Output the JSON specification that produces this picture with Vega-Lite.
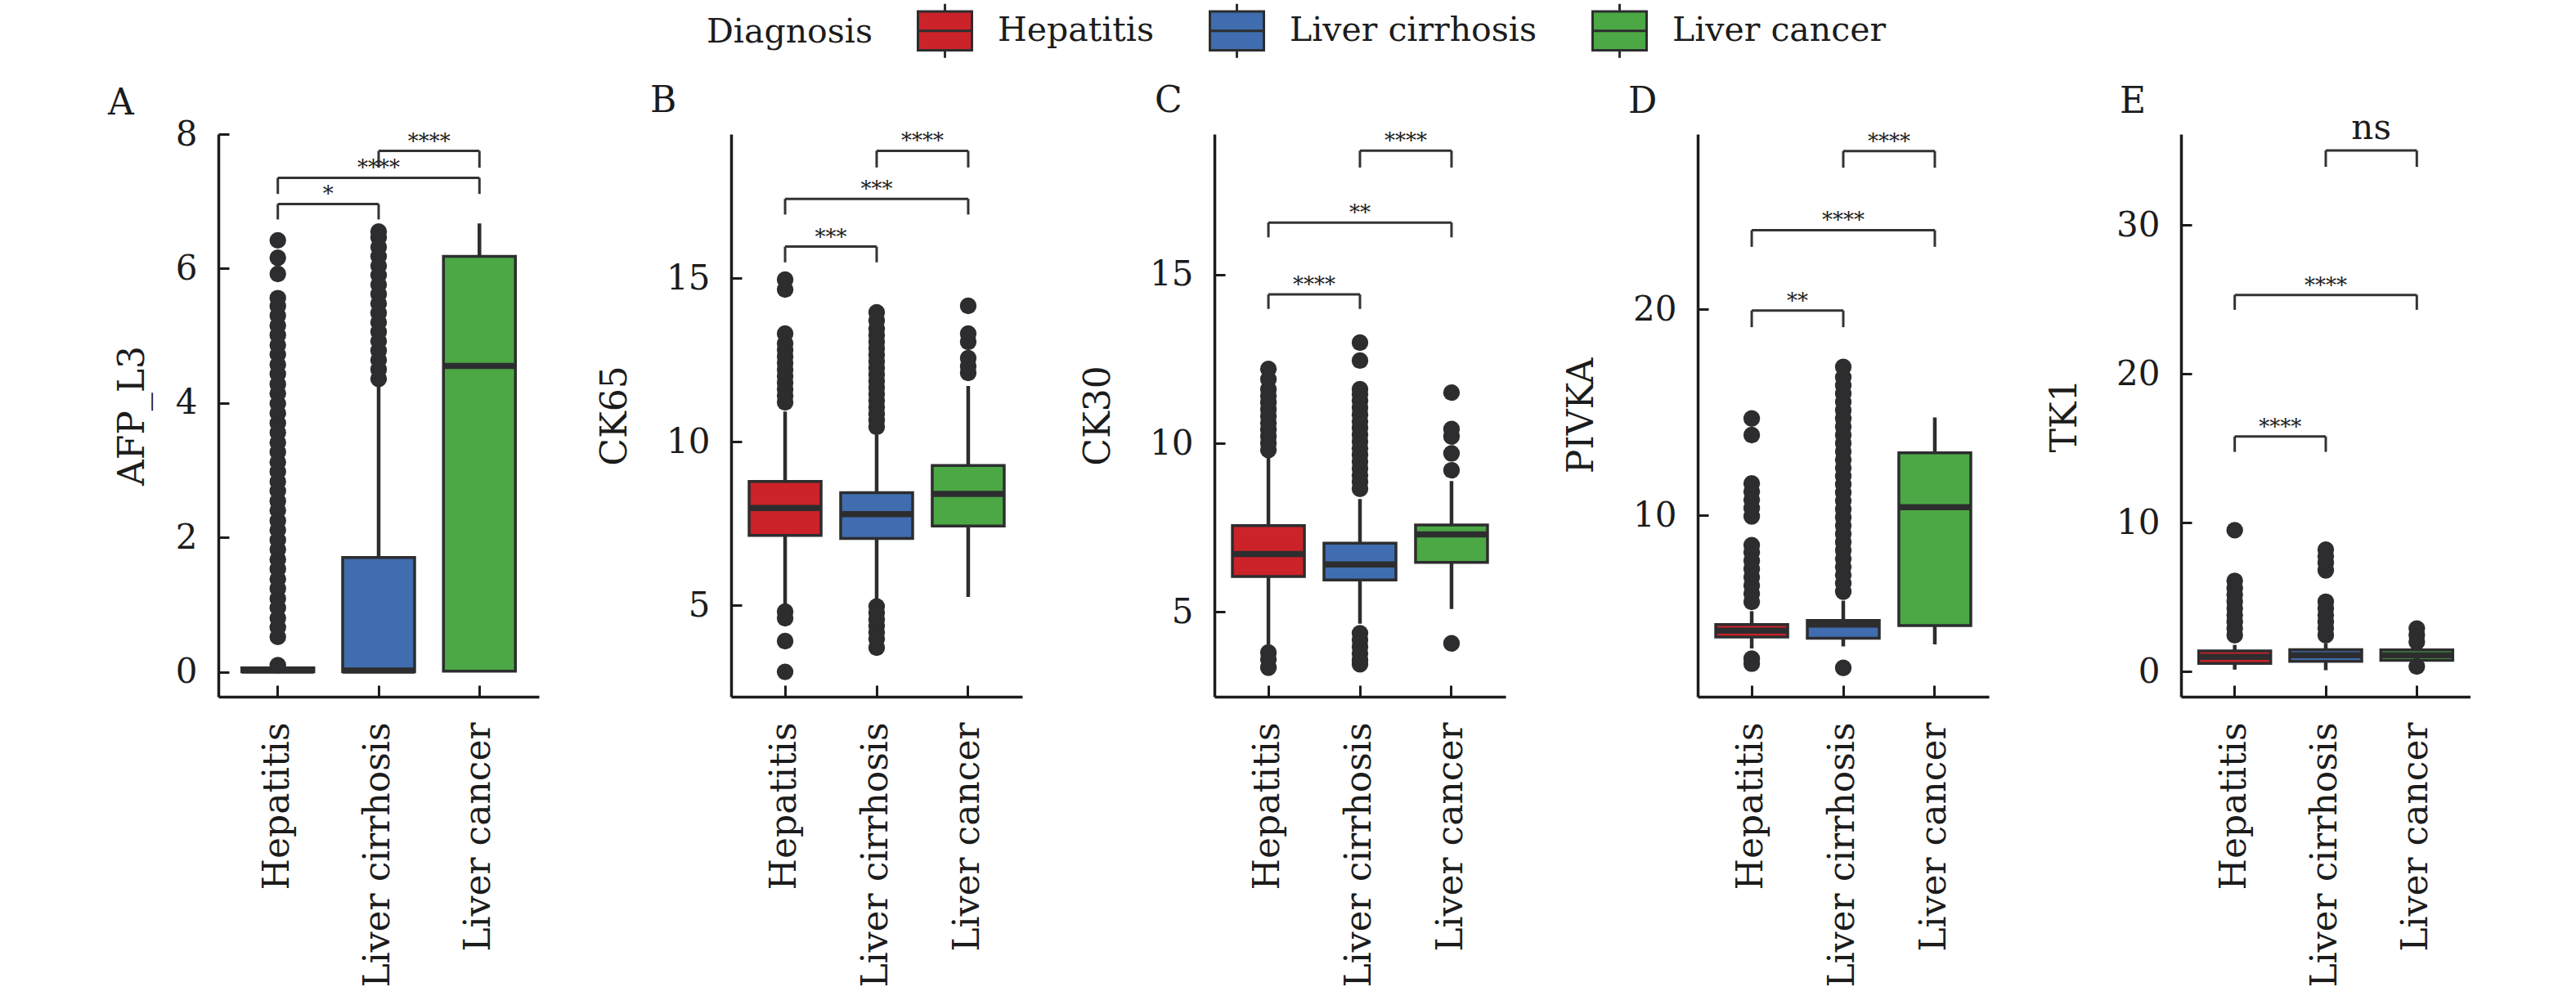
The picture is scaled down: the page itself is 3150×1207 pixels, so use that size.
{
"$schema": "https://vega.github.io/schema/vega-lite/v6.json",
"background": "white",
"padding": {"left": 132, "top": 3, "right": 0, "bottom": 0},
"spacing": 235,
"bounds": "flush",
"config": {
  "view": {"stroke": null},
  "font": "DejaVu Serif",
  "axis": {"grid": false, "domainColor": "#1c1c1c", "domainWidth": 3.5, "tickColor": "#1c1c1c", "tickWidth": 3, "labelFont": "DejaVu Serif", "titleFont": "DejaVu Serif", "titleFontWeight": "normal", "labelColor": "#1c1c1c", "titleColor": "#1c1c1c", "labelFontSize": 42, "titleFontSize": 44, "labelLimit": 0},
  "text": {"font": "DejaVu Serif", "color": "#1c1c1c"}
},
"resolve": {"scale": {"x": "independent", "y": "independent", "fill": "independent"}, "legend": {"fill": "independent"}},
"datasets": {
"boxes": [
{"p":"A","g":"Hepatitis","lower":0,"q1":0,"median":0.02,"q3":0.06,"upper":0.12},
{"p":"A","g":"Liver cirrhosis","lower":0,"q1":0,"median":0.02,"q3":1.7,"upper":4.25},
{"p":"A","g":"Liver cancer","lower":0,"q1":0.01,"median":4.55,"q3":6.18,"upper":6.67},
{"p":"B","g":"Hepatitis","lower":4.96,"q1":7.13,"median":7.97,"q3":8.78,"upper":10.92},
{"p":"B","g":"Liver cirrhosis","lower":5.19,"q1":7.04,"median":7.78,"q3":8.44,"upper":10.2},
{"p":"B","g":"Liver cancer","lower":5.25,"q1":7.42,"median":8.4,"q3":9.27,"upper":11.7},
{"p":"C","g":"Hepatitis","lower":4.04,"q1":6.05,"median":6.72,"q3":7.56,"upper":9.6},
{"p":"C","g":"Liver cirrhosis","lower":4.65,"q1":5.95,"median":6.41,"q3":7.04,"upper":8.35},
{"p":"C","g":"Liver cancer","lower":5.09,"q1":6.47,"median":7.3,"q3":7.58,"upper":8.88},
{"p":"D","g":"Hepatitis","lower":3.54,"q1":4.1,"median":4.4,"q3":4.7,"upper":5.35},
{"p":"D","g":"Liver cirrhosis","lower":3.64,"q1":4.04,"median":4.7,"q3":4.9,"upper":5.86},
{"p":"D","g":"Liver cancer","lower":3.74,"q1":4.65,"median":10.4,"q3":13.03,"upper":14.75},
{"p":"E","g":"Hepatitis","lower":0.14,"q1":0.56,"median":1.0,"q3":1.4,"upper":1.8},
{"p":"E","g":"Liver cirrhosis","lower":0.1,"q1":0.7,"median":1.1,"q3":1.48,"upper":1.9},
{"p":"E","g":"Liver cancer","lower":0.5,"q1":0.76,"median":1.1,"q3":1.46,"upper":1.7}
],
"outliers": [
{"p":"A","g":"Hepatitis","v":0.1},{"p":"A","g":"Hepatitis","v":0.52},{"p":"A","g":"Hepatitis","v":0.66},{"p":"A","g":"Hepatitis","v":0.8},{"p":"A","g":"Hepatitis","v":0.95},{"p":"A","g":"Hepatitis","v":1.09},{"p":"A","g":"Hepatitis","v":1.24},{"p":"A","g":"Hepatitis","v":1.38},{"p":"A","g":"Hepatitis","v":1.53},{"p":"A","g":"Hepatitis","v":1.67},{"p":"A","g":"Hepatitis","v":1.82},{"p":"A","g":"Hepatitis","v":1.96},{"p":"A","g":"Hepatitis","v":2.11},{"p":"A","g":"Hepatitis","v":2.25},{"p":"A","g":"Hepatitis","v":2.4},{"p":"A","g":"Hepatitis","v":2.54},{"p":"A","g":"Hepatitis","v":2.69},{"p":"A","g":"Hepatitis","v":2.83},{"p":"A","g":"Hepatitis","v":2.98},{"p":"A","g":"Hepatitis","v":3.12},{"p":"A","g":"Hepatitis","v":3.27},{"p":"A","g":"Hepatitis","v":3.41},{"p":"A","g":"Hepatitis","v":3.56},{"p":"A","g":"Hepatitis","v":3.7},{"p":"A","g":"Hepatitis","v":3.85},{"p":"A","g":"Hepatitis","v":3.99},{"p":"A","g":"Hepatitis","v":4.14},{"p":"A","g":"Hepatitis","v":4.28},{"p":"A","g":"Hepatitis","v":4.43},{"p":"A","g":"Hepatitis","v":4.57},{"p":"A","g":"Hepatitis","v":4.72},{"p":"A","g":"Hepatitis","v":4.86},{"p":"A","g":"Hepatitis","v":5.01},{"p":"A","g":"Hepatitis","v":5.15},{"p":"A","g":"Hepatitis","v":5.3},{"p":"A","g":"Hepatitis","v":5.44},{"p":"A","g":"Hepatitis","v":5.56},{"p":"A","g":"Hepatitis","v":5.92},{"p":"A","g":"Hepatitis","v":6.16},{"p":"A","g":"Hepatitis","v":6.42},
{"p":"A","g":"Liver cirrhosis","v":4.36},{"p":"A","g":"Liver cirrhosis","v":4.5},{"p":"A","g":"Liver cirrhosis","v":4.64},{"p":"A","g":"Liver cirrhosis","v":4.78},{"p":"A","g":"Liver cirrhosis","v":4.92},{"p":"A","g":"Liver cirrhosis","v":5.06},{"p":"A","g":"Liver cirrhosis","v":5.2},{"p":"A","g":"Liver cirrhosis","v":5.34},{"p":"A","g":"Liver cirrhosis","v":5.48},{"p":"A","g":"Liver cirrhosis","v":5.62},{"p":"A","g":"Liver cirrhosis","v":5.76},{"p":"A","g":"Liver cirrhosis","v":5.9},{"p":"A","g":"Liver cirrhosis","v":6.04},{"p":"A","g":"Liver cirrhosis","v":6.18},{"p":"A","g":"Liver cirrhosis","v":6.32},{"p":"A","g":"Liver cirrhosis","v":6.46},{"p":"A","g":"Liver cirrhosis","v":6.55},
{"p":"B","g":"Hepatitis","v":11.2},{"p":"B","g":"Hepatitis","v":11.4},{"p":"B","g":"Hepatitis","v":11.6},{"p":"B","g":"Hepatitis","v":11.8},{"p":"B","g":"Hepatitis","v":12.0},{"p":"B","g":"Hepatitis","v":12.2},{"p":"B","g":"Hepatitis","v":12.4},{"p":"B","g":"Hepatitis","v":12.6},{"p":"B","g":"Hepatitis","v":12.8},{"p":"B","g":"Hepatitis","v":13.0},{"p":"B","g":"Hepatitis","v":13.3},{"p":"B","g":"Hepatitis","v":14.65},{"p":"B","g":"Hepatitis","v":14.95},{"p":"B","g":"Hepatitis","v":4.8},{"p":"B","g":"Hepatitis","v":4.6},{"p":"B","g":"Hepatitis","v":3.9},{"p":"B","g":"Hepatitis","v":2.96},
{"p":"B","g":"Liver cirrhosis","v":10.45},{"p":"B","g":"Liver cirrhosis","v":10.65},{"p":"B","g":"Liver cirrhosis","v":10.85},{"p":"B","g":"Liver cirrhosis","v":11.05},{"p":"B","g":"Liver cirrhosis","v":11.25},{"p":"B","g":"Liver cirrhosis","v":11.45},{"p":"B","g":"Liver cirrhosis","v":11.65},{"p":"B","g":"Liver cirrhosis","v":11.85},{"p":"B","g":"Liver cirrhosis","v":12.05},{"p":"B","g":"Liver cirrhosis","v":12.25},{"p":"B","g":"Liver cirrhosis","v":12.45},{"p":"B","g":"Liver cirrhosis","v":12.65},{"p":"B","g":"Liver cirrhosis","v":12.85},{"p":"B","g":"Liver cirrhosis","v":13.05},{"p":"B","g":"Liver cirrhosis","v":13.25},{"p":"B","g":"Liver cirrhosis","v":13.45},{"p":"B","g":"Liver cirrhosis","v":13.7},{"p":"B","g":"Liver cirrhosis","v":13.95},{"p":"B","g":"Liver cirrhosis","v":4.96},{"p":"B","g":"Liver cirrhosis","v":4.76},{"p":"B","g":"Liver cirrhosis","v":4.56},{"p":"B","g":"Liver cirrhosis","v":4.36},{"p":"B","g":"Liver cirrhosis","v":4.16},{"p":"B","g":"Liver cirrhosis","v":3.96},{"p":"B","g":"Liver cirrhosis","v":3.7},
{"p":"B","g":"Liver cancer","v":12.1},{"p":"B","g":"Liver cancer","v":12.3},{"p":"B","g":"Liver cancer","v":12.55},{"p":"B","g":"Liver cancer","v":13.05},{"p":"B","g":"Liver cancer","v":13.3},{"p":"B","g":"Liver cancer","v":14.15},
{"p":"C","g":"Hepatitis","v":9.8},{"p":"C","g":"Hepatitis","v":10.0},{"p":"C","g":"Hepatitis","v":10.2},{"p":"C","g":"Hepatitis","v":10.4},{"p":"C","g":"Hepatitis","v":10.6},{"p":"C","g":"Hepatitis","v":10.8},{"p":"C","g":"Hepatitis","v":11.0},{"p":"C","g":"Hepatitis","v":11.2},{"p":"C","g":"Hepatitis","v":11.4},{"p":"C","g":"Hepatitis","v":11.6},{"p":"C","g":"Hepatitis","v":11.9},{"p":"C","g":"Hepatitis","v":12.2},{"p":"C","g":"Hepatitis","v":3.8},{"p":"C","g":"Hepatitis","v":3.6},{"p":"C","g":"Hepatitis","v":3.35},
{"p":"C","g":"Liver cirrhosis","v":8.65},{"p":"C","g":"Liver cirrhosis","v":8.85},{"p":"C","g":"Liver cirrhosis","v":9.05},{"p":"C","g":"Liver cirrhosis","v":9.25},{"p":"C","g":"Liver cirrhosis","v":9.45},{"p":"C","g":"Liver cirrhosis","v":9.65},{"p":"C","g":"Liver cirrhosis","v":9.85},{"p":"C","g":"Liver cirrhosis","v":10.05},{"p":"C","g":"Liver cirrhosis","v":10.25},{"p":"C","g":"Liver cirrhosis","v":10.45},{"p":"C","g":"Liver cirrhosis","v":10.65},{"p":"C","g":"Liver cirrhosis","v":10.85},{"p":"C","g":"Liver cirrhosis","v":11.05},{"p":"C","g":"Liver cirrhosis","v":11.25},{"p":"C","g":"Liver cirrhosis","v":11.45},{"p":"C","g":"Liver cirrhosis","v":11.6},{"p":"C","g":"Liver cirrhosis","v":12.45},{"p":"C","g":"Liver cirrhosis","v":12.98},{"p":"C","g":"Liver cirrhosis","v":4.37},{"p":"C","g":"Liver cirrhosis","v":4.17},{"p":"C","g":"Liver cirrhosis","v":3.97},{"p":"C","g":"Liver cirrhosis","v":3.77},{"p":"C","g":"Liver cirrhosis","v":3.57},{"p":"C","g":"Liver cirrhosis","v":3.45},
{"p":"C","g":"Liver cancer","v":9.2},{"p":"C","g":"Liver cancer","v":9.7},{"p":"C","g":"Liver cancer","v":10.2},{"p":"C","g":"Liver cancer","v":10.42},{"p":"C","g":"Liver cancer","v":11.5},{"p":"C","g":"Liver cancer","v":4.07},
{"p":"D","g":"Hepatitis","v":5.8},{"p":"D","g":"Hepatitis","v":6.2},{"p":"D","g":"Hepatitis","v":6.6},{"p":"D","g":"Hepatitis","v":7.0},{"p":"D","g":"Hepatitis","v":7.4},{"p":"D","g":"Hepatitis","v":7.8},{"p":"D","g":"Hepatitis","v":8.2},{"p":"D","g":"Hepatitis","v":8.55},{"p":"D","g":"Hepatitis","v":9.95},{"p":"D","g":"Hepatitis","v":10.35},{"p":"D","g":"Hepatitis","v":10.75},{"p":"D","g":"Hepatitis","v":11.15},{"p":"D","g":"Hepatitis","v":11.55},{"p":"D","g":"Hepatitis","v":13.9},{"p":"D","g":"Hepatitis","v":14.7},{"p":"D","g":"Hepatitis","v":3.05},{"p":"D","g":"Hepatitis","v":2.8},
{"p":"D","g":"Liver cirrhosis","v":6.3},{"p":"D","g":"Liver cirrhosis","v":6.7},{"p":"D","g":"Liver cirrhosis","v":7.1},{"p":"D","g":"Liver cirrhosis","v":7.5},{"p":"D","g":"Liver cirrhosis","v":7.9},{"p":"D","g":"Liver cirrhosis","v":8.3},{"p":"D","g":"Liver cirrhosis","v":8.7},{"p":"D","g":"Liver cirrhosis","v":9.1},{"p":"D","g":"Liver cirrhosis","v":9.5},{"p":"D","g":"Liver cirrhosis","v":9.9},{"p":"D","g":"Liver cirrhosis","v":10.3},{"p":"D","g":"Liver cirrhosis","v":10.7},{"p":"D","g":"Liver cirrhosis","v":11.1},{"p":"D","g":"Liver cirrhosis","v":11.5},{"p":"D","g":"Liver cirrhosis","v":11.9},{"p":"D","g":"Liver cirrhosis","v":12.3},{"p":"D","g":"Liver cirrhosis","v":12.7},{"p":"D","g":"Liver cirrhosis","v":13.1},{"p":"D","g":"Liver cirrhosis","v":13.5},{"p":"D","g":"Liver cirrhosis","v":13.9},{"p":"D","g":"Liver cirrhosis","v":14.3},{"p":"D","g":"Liver cirrhosis","v":14.7},{"p":"D","g":"Liver cirrhosis","v":15.1},{"p":"D","g":"Liver cirrhosis","v":15.5},{"p":"D","g":"Liver cirrhosis","v":15.9},{"p":"D","g":"Liver cirrhosis","v":16.3},{"p":"D","g":"Liver cirrhosis","v":16.7},{"p":"D","g":"Liver cirrhosis","v":17.2},{"p":"D","g":"Liver cirrhosis","v":2.6},
{"p":"E","g":"Hepatitis","v":2.45},{"p":"E","g":"Hepatitis","v":2.9},{"p":"E","g":"Hepatitis","v":3.35},{"p":"E","g":"Hepatitis","v":3.8},{"p":"E","g":"Hepatitis","v":4.25},{"p":"E","g":"Hepatitis","v":4.7},{"p":"E","g":"Hepatitis","v":5.15},{"p":"E","g":"Hepatitis","v":5.6},{"p":"E","g":"Hepatitis","v":6.1},{"p":"E","g":"Hepatitis","v":9.5},
{"p":"E","g":"Liver cirrhosis","v":2.45},{"p":"E","g":"Liver cirrhosis","v":2.9},{"p":"E","g":"Liver cirrhosis","v":3.35},{"p":"E","g":"Liver cirrhosis","v":3.8},{"p":"E","g":"Liver cirrhosis","v":4.25},{"p":"E","g":"Liver cirrhosis","v":4.7},{"p":"E","g":"Liver cirrhosis","v":6.8},{"p":"E","g":"Liver cirrhosis","v":7.3},{"p":"E","g":"Liver cirrhosis","v":7.75},{"p":"E","g":"Liver cirrhosis","v":8.2},
{"p":"E","g":"Liver cancer","v":0.35},{"p":"E","g":"Liver cancer","v":2.0},{"p":"E","g":"Liver cancer","v":2.45},{"p":"E","g":"Liver cancer","v":2.9}
],
"brackets": [
{"p":"A","from":"Hepatitis","to":"Liver cirrhosis","h":6.96,"hb":6.73,"label":"*","span":"adj","tx":"Hepatitis","ty":6.96},
{"p":"A","from":"Hepatitis","to":"Liver cancer","h":7.35,"hb":7.11,"label":"****","span":"wide","tx":"Liver cirrhosis","ty":7.35},
{"p":"A","from":"Liver cirrhosis","to":"Liver cancer","h":7.75,"hb":7.5,"label":"****","span":"adj","tx":"Liver cirrhosis","ty":7.75},
{"p":"B","from":"Hepatitis","to":"Liver cirrhosis","h":15.96,"hb":15.48,"label":"***","span":"adj","tx":"Hepatitis","ty":15.96},
{"p":"B","from":"Hepatitis","to":"Liver cancer","h":17.42,"hb":16.94,"label":"***","span":"wide","tx":"Liver cirrhosis","ty":17.42},
{"p":"B","from":"Liver cirrhosis","to":"Liver cancer","h":18.89,"hb":18.38,"label":"****","span":"adj","tx":"Liver cirrhosis","ty":18.89},
{"p":"C","from":"Hepatitis","to":"Liver cirrhosis","h":14.41,"hb":13.98,"label":"****","span":"adj","tx":"Hepatitis","ty":14.41},
{"p":"C","from":"Hepatitis","to":"Liver cancer","h":16.54,"hb":16.1,"label":"**","span":"wide","tx":"Liver cirrhosis","ty":16.54},
{"p":"C","from":"Liver cirrhosis","to":"Liver cancer","h":18.67,"hb":18.17,"label":"****","span":"adj","tx":"Liver cirrhosis","ty":18.67},
{"p":"D","from":"Hepatitis","to":"Liver cirrhosis","h":19.94,"hb":19.13,"label":"**","span":"adj","tx":"Hepatitis","ty":19.94},
{"p":"D","from":"Hepatitis","to":"Liver cancer","h":23.84,"hb":23.03,"label":"****","span":"wide","tx":"Liver cirrhosis","ty":23.84},
{"p":"D","from":"Liver cirrhosis","to":"Liver cancer","h":27.68,"hb":26.87,"label":"****","span":"adj","tx":"Liver cirrhosis","ty":27.68},
{"p":"E","from":"Hepatitis","to":"Liver cirrhosis","h":15.8,"hb":14.76,"label":"****","span":"adj","tx":"Hepatitis","ty":15.8},
{"p":"E","from":"Hepatitis","to":"Liver cancer","h":25.3,"hb":24.3,"label":"****","span":"wide","tx":"Liver cirrhosis","ty":25.3},
{"p":"E","from":"Liver cirrhosis","to":"Liver cancer","h":35.0,"hb":33.9,"label":"ns","span":"adj","tx":"Liver cirrhosis","ty":35.75}
]
},
"hconcat": [
{
"width": 392, "height": 688,
"title": {"text": "A", "anchor": "start", "frame": "group", "dx": -135, "dy": 160, "offset": 14, "fontSize": 44, "fontWeight": "normal", "font": "DejaVu Serif", "color": "#1c1c1c"},
"layer": [
{"data": {"name": "boxes"}, "transform": [{"filter": "datum.p === 'A'"}], "mark": {"type": "rule", "strokeWidth": 4.5, "color": "#2d2d2f"},
 "encoding": {"x": {"field": "g", "type": "nominal", "scale": {"domain": ["Hepatitis","Liver cirrhosis","Liver cancer"], "paddingInner": 0, "paddingOuter": 0.09}, "axis": {"title": null, "labelAngle": -90, "labelAlign": "right", "labelBaseline": "middle", "labelFontSize": 44, "labelPadding": 45, "tickSize": -14}},
  "y": {"field": "lower", "type": "quantitative", "scale": {"domain": [-0.37, 8], "nice": false, "zero": false}, "axis": {"title": "AFP_L3", "values": [0,2,4,6,8], "format": "d", "tickSize": -13, "labelPadding": 39, "titlePadding": 30}},
  "y2": {"field": "upper"}}},
{"data": {"name": "boxes"}, "transform": [{"filter": "datum.p === 'A'"}], "mark": {"type": "bar", "size": 88, "stroke": "#2d2d2f", "strokeWidth": 3.5},
 "encoding": {"x": {"field": "g", "type": "nominal", "scale": {"domain": ["Hepatitis","Liver cirrhosis","Liver cancer"]}},
  "y": {"field": "q1", "type": "quantitative", "scale": {"domain": [-0.37, 8], "nice": false, "zero": false}}, "y2": {"field": "q3"},
  "fill": {"field": "g", "type": "nominal", "scale": {"domain": ["Hepatitis","Liver cirrhosis","Liver cancer"], "range": ["#CC2229","#3F6DAF","#4BA844"]},
   "legend": {"title": "Diagnosis", "orient": "none", "legendX": 597, "legendY": -161, "direction": "horizontal", "titleOrient": "left", "titleBaseline": "middle", "titleAnchor": "middle", "symbolType": "M0,-1V-0.72M-1,-0.72H1V0.72H-1ZM-1,0H1M0,0.72V1", "symbolSize": 4356, "symbolStrokeColor": "#2d2d2f", "symbolStrokeWidth": 3, "symbolOpacity": 1, "labelFont": "DejaVu Serif", "titleFont": "DejaVu Serif", "labelFontSize": 41, "titleFontSize": 41, "titleFontWeight": "normal", "labelColor": "#1c1c1c", "titleColor": "#1c1c1c", "labelOffset": 30, "columnPadding": 62, "titlePadding": 54, "labelLimit": 0, "titleLimit": 0}}}},
{"data": {"name": "boxes"}, "transform": [{"filter": "datum.p === 'A'"}], "mark": {"type": "tick", "size": 88, "thickness": 7.5, "color": "#2d2d2f", "opacity": 1},
 "encoding": {"x": {"field": "g", "type": "nominal", "scale": {"domain": ["Hepatitis","Liver cirrhosis","Liver cancer"]}},
  "y": {"field": "median", "type": "quantitative", "scale": {"domain": [-0.37, 8], "nice": false, "zero": false}}}},
{"data": {"name": "outliers"}, "transform": [{"filter": "datum.p === 'A'"}], "mark": {"type": "circle", "size": 415, "opacity": 1, "color": "#2d2d2f"},
 "encoding": {"x": {"field": "g", "type": "nominal", "scale": {"domain": ["Hepatitis","Liver cirrhosis","Liver cancer"]}},
  "y": {"field": "v", "type": "quantitative", "scale": {"domain": [-0.37, 8], "nice": false, "zero": false}}}},
{"data": {"name": "brackets"}, "transform": [{"filter": "datum.p === 'A'"}], "mark": {"type": "rule", "strokeWidth": 3, "color": "#333333"},
 "encoding": {"x": {"field": "from", "type": "nominal", "scale": {"domain": ["Hepatitis","Liver cirrhosis","Liver cancer"]}}, "x2": {"field": "to"},
  "y": {"field": "h", "type": "quantitative", "scale": {"domain": [-0.37, 8], "nice": false, "zero": false}}}},
{"data": {"name": "brackets"}, "transform": [{"filter": "datum.p === 'A'"}], "mark": {"type": "rule", "strokeWidth": 3, "color": "#333333"},
 "encoding": {"x": {"field": "from", "type": "nominal", "scale": {"domain": ["Hepatitis","Liver cirrhosis","Liver cancer"]}},
  "y": {"field": "h", "type": "quantitative", "scale": {"domain": [-0.37, 8], "nice": false, "zero": false}}, "y2": {"field": "hb"}}},
{"data": {"name": "brackets"}, "transform": [{"filter": "datum.p === 'A'"}], "mark": {"type": "rule", "strokeWidth": 3, "color": "#333333"},
 "encoding": {"x": {"field": "to", "type": "nominal", "scale": {"domain": ["Hepatitis","Liver cirrhosis","Liver cancer"]}},
  "y": {"field": "h", "type": "quantitative", "scale": {"domain": [-0.37, 8], "nice": false, "zero": false}}, "y2": {"field": "hb"}}},
{"data": {"name": "brackets"}, "transform": [{"filter": "datum.p === 'A' && datum.span === 'adj' && datum.label !== 'ns'"}], "mark": {"type": "text", "fontSize": 26, "baseline": "alphabetic", "dy": -3},
 "encoding": {"x": {"field": "tx", "type": "nominal", "bandPosition": 1, "scale": {"domain": ["Hepatitis","Liver cirrhosis","Liver cancer"]}},
  "y": {"field": "ty", "type": "quantitative", "scale": {"domain": [-0.37, 8], "nice": false, "zero": false}}, "text": {"field": "label"}}},
{"data": {"name": "brackets"}, "transform": [{"filter": "datum.p === 'A' && datum.span === 'wide'"}], "mark": {"type": "text", "fontSize": 26, "baseline": "alphabetic", "dy": -3},
 "encoding": {"x": {"field": "tx", "type": "nominal", "scale": {"domain": ["Hepatitis","Liver cirrhosis","Liver cancer"]}},
  "y": {"field": "ty", "type": "quantitative", "scale": {"domain": [-0.37, 8], "nice": false, "zero": false}}, "text": {"field": "label"}}}
]
},
{
"width": 356, "height": 688,
"title": {"text": "B", "anchor": "start", "frame": "group", "dx": -99, "offset": 14, "fontSize": 44, "fontWeight": "normal", "font": "DejaVu Serif", "color": "#1c1c1c"},
"layer": [
{"data": {"name": "boxes"}, "transform": [{"filter": "datum.p === 'B'"}], "mark": {"type": "rule", "strokeWidth": 4.5, "color": "#2d2d2f"},
 "encoding": {"x": {"field": "g", "type": "nominal", "scale": {"domain": ["Hepatitis","Liver cirrhosis","Liver cancer"], "paddingInner": 0, "paddingOuter": 0.09}, "axis": {"title": null, "labelAngle": -90, "labelAlign": "right", "labelBaseline": "middle", "labelFontSize": 44, "labelPadding": 45, "tickSize": -14}},
  "y": {"field": "lower", "type": "quantitative", "scale": {"domain": [2.2, 19.4], "nice": false, "zero": false}, "axis": {"title": "CK65", "values": [5,10,15], "tickSize": -13, "labelPadding": 39, "titlePadding": 40}},
  "y2": {"field": "upper"}}},
{"data": {"name": "boxes"}, "transform": [{"filter": "datum.p === 'B'"}], "mark": {"type": "bar", "size": 88, "stroke": "#2d2d2f", "strokeWidth": 3.5},
 "encoding": {"x": {"field": "g", "type": "nominal", "scale": {"domain": ["Hepatitis","Liver cirrhosis","Liver cancer"]}},
  "y": {"field": "q1", "type": "quantitative", "scale": {"domain": [2.2, 19.4], "nice": false, "zero": false}}, "y2": {"field": "q3"},
  "fill": {"field": "g", "type": "nominal", "scale": {"domain": ["Hepatitis","Liver cirrhosis","Liver cancer"], "range": ["#CC2229","#3F6DAF","#4BA844"]}, "legend": null}}},
{"data": {"name": "boxes"}, "transform": [{"filter": "datum.p === 'B'"}], "mark": {"type": "tick", "size": 88, "thickness": 7.5, "color": "#2d2d2f", "opacity": 1},
 "encoding": {"x": {"field": "g", "type": "nominal", "scale": {"domain": ["Hepatitis","Liver cirrhosis","Liver cancer"]}},
  "y": {"field": "median", "type": "quantitative", "scale": {"domain": [2.2, 19.4], "nice": false, "zero": false}}}},
{"data": {"name": "outliers"}, "transform": [{"filter": "datum.p === 'B'"}], "mark": {"type": "circle", "size": 415, "opacity": 1, "color": "#2d2d2f"},
 "encoding": {"x": {"field": "g", "type": "nominal", "scale": {"domain": ["Hepatitis","Liver cirrhosis","Liver cancer"]}},
  "y": {"field": "v", "type": "quantitative", "scale": {"domain": [2.2, 19.4], "nice": false, "zero": false}}}},
{"data": {"name": "brackets"}, "transform": [{"filter": "datum.p === 'B'"}], "mark": {"type": "rule", "strokeWidth": 3, "color": "#333333"},
 "encoding": {"x": {"field": "from", "type": "nominal", "scale": {"domain": ["Hepatitis","Liver cirrhosis","Liver cancer"]}}, "x2": {"field": "to"},
  "y": {"field": "h", "type": "quantitative", "scale": {"domain": [2.2, 19.4], "nice": false, "zero": false}}}},
{"data": {"name": "brackets"}, "transform": [{"filter": "datum.p === 'B'"}], "mark": {"type": "rule", "strokeWidth": 3, "color": "#333333"},
 "encoding": {"x": {"field": "from", "type": "nominal", "scale": {"domain": ["Hepatitis","Liver cirrhosis","Liver cancer"]}},
  "y": {"field": "h", "type": "quantitative", "scale": {"domain": [2.2, 19.4], "nice": false, "zero": false}}, "y2": {"field": "hb"}}},
{"data": {"name": "brackets"}, "transform": [{"filter": "datum.p === 'B'"}], "mark": {"type": "rule", "strokeWidth": 3, "color": "#333333"},
 "encoding": {"x": {"field": "to", "type": "nominal", "scale": {"domain": ["Hepatitis","Liver cirrhosis","Liver cancer"]}},
  "y": {"field": "h", "type": "quantitative", "scale": {"domain": [2.2, 19.4], "nice": false, "zero": false}}, "y2": {"field": "hb"}}},
{"data": {"name": "brackets"}, "transform": [{"filter": "datum.p === 'B' && datum.span === 'adj' && datum.label !== 'ns'"}], "mark": {"type": "text", "fontSize": 26, "baseline": "alphabetic", "dy": -3},
 "encoding": {"x": {"field": "tx", "type": "nominal", "bandPosition": 1, "scale": {"domain": ["Hepatitis","Liver cirrhosis","Liver cancer"]}},
  "y": {"field": "ty", "type": "quantitative", "scale": {"domain": [2.2, 19.4], "nice": false, "zero": false}}, "text": {"field": "label"}}},
{"data": {"name": "brackets"}, "transform": [{"filter": "datum.p === 'B' && datum.span === 'wide'"}], "mark": {"type": "text", "fontSize": 26, "baseline": "alphabetic", "dy": -3},
 "encoding": {"x": {"field": "tx", "type": "nominal", "scale": {"domain": ["Hepatitis","Liver cirrhosis","Liver cancer"]}},
  "y": {"field": "ty", "type": "quantitative", "scale": {"domain": [2.2, 19.4], "nice": false, "zero": false}}, "text": {"field": "label"}}}
]
},
{
"width": 356, "height": 688,
"title": {"text": "C", "anchor": "start", "frame": "group", "dx": -73, "offset": 14, "fontSize": 44, "fontWeight": "normal", "font": "DejaVu Serif", "color": "#1c1c1c"},
"layer": [
{"data": {"name": "boxes"}, "transform": [{"filter": "datum.p === 'C'"}], "mark": {"type": "rule", "strokeWidth": 4.5, "color": "#2d2d2f"},
 "encoding": {"x": {"field": "g", "type": "nominal", "scale": {"domain": ["Hepatitis","Liver cirrhosis","Liver cancer"], "paddingInner": 0, "paddingOuter": 0.09}, "axis": {"title": null, "labelAngle": -90, "labelAlign": "right", "labelBaseline": "middle", "labelFontSize": 44, "labelPadding": 45, "tickSize": -14}},
  "y": {"field": "lower", "type": "quantitative", "scale": {"domain": [2.49, 19.16], "nice": false, "zero": false}, "axis": {"title": "CK30", "values": [5,10,15], "tickSize": -13, "labelPadding": 39, "titlePadding": 40}},
  "y2": {"field": "upper"}}},
{"data": {"name": "boxes"}, "transform": [{"filter": "datum.p === 'C'"}], "mark": {"type": "bar", "size": 88, "stroke": "#2d2d2f", "strokeWidth": 3.5},
 "encoding": {"x": {"field": "g", "type": "nominal", "scale": {"domain": ["Hepatitis","Liver cirrhosis","Liver cancer"]}},
  "y": {"field": "q1", "type": "quantitative", "scale": {"domain": [2.49, 19.16], "nice": false, "zero": false}}, "y2": {"field": "q3"},
  "fill": {"field": "g", "type": "nominal", "scale": {"domain": ["Hepatitis","Liver cirrhosis","Liver cancer"], "range": ["#CC2229","#3F6DAF","#4BA844"]}, "legend": null}}},
{"data": {"name": "boxes"}, "transform": [{"filter": "datum.p === 'C'"}], "mark": {"type": "tick", "size": 88, "thickness": 7.5, "color": "#2d2d2f", "opacity": 1},
 "encoding": {"x": {"field": "g", "type": "nominal", "scale": {"domain": ["Hepatitis","Liver cirrhosis","Liver cancer"]}},
  "y": {"field": "median", "type": "quantitative", "scale": {"domain": [2.49, 19.16], "nice": false, "zero": false}}}},
{"data": {"name": "outliers"}, "transform": [{"filter": "datum.p === 'C'"}], "mark": {"type": "circle", "size": 415, "opacity": 1, "color": "#2d2d2f"},
 "encoding": {"x": {"field": "g", "type": "nominal", "scale": {"domain": ["Hepatitis","Liver cirrhosis","Liver cancer"]}},
  "y": {"field": "v", "type": "quantitative", "scale": {"domain": [2.49, 19.16], "nice": false, "zero": false}}}},
{"data": {"name": "brackets"}, "transform": [{"filter": "datum.p === 'C'"}], "mark": {"type": "rule", "strokeWidth": 3, "color": "#333333"},
 "encoding": {"x": {"field": "from", "type": "nominal", "scale": {"domain": ["Hepatitis","Liver cirrhosis","Liver cancer"]}}, "x2": {"field": "to"},
  "y": {"field": "h", "type": "quantitative", "scale": {"domain": [2.49, 19.16], "nice": false, "zero": false}}}},
{"data": {"name": "brackets"}, "transform": [{"filter": "datum.p === 'C'"}], "mark": {"type": "rule", "strokeWidth": 3, "color": "#333333"},
 "encoding": {"x": {"field": "from", "type": "nominal", "scale": {"domain": ["Hepatitis","Liver cirrhosis","Liver cancer"]}},
  "y": {"field": "h", "type": "quantitative", "scale": {"domain": [2.49, 19.16], "nice": false, "zero": false}}, "y2": {"field": "hb"}}},
{"data": {"name": "brackets"}, "transform": [{"filter": "datum.p === 'C'"}], "mark": {"type": "rule", "strokeWidth": 3, "color": "#333333"},
 "encoding": {"x": {"field": "to", "type": "nominal", "scale": {"domain": ["Hepatitis","Liver cirrhosis","Liver cancer"]}},
  "y": {"field": "h", "type": "quantitative", "scale": {"domain": [2.49, 19.16], "nice": false, "zero": false}}, "y2": {"field": "hb"}}},
{"data": {"name": "brackets"}, "transform": [{"filter": "datum.p === 'C' && datum.span === 'adj' && datum.label !== 'ns'"}], "mark": {"type": "text", "fontSize": 26, "baseline": "alphabetic", "dy": -3},
 "encoding": {"x": {"field": "tx", "type": "nominal", "bandPosition": 1, "scale": {"domain": ["Hepatitis","Liver cirrhosis","Liver cancer"]}},
  "y": {"field": "ty", "type": "quantitative", "scale": {"domain": [2.49, 19.16], "nice": false, "zero": false}}, "text": {"field": "label"}}},
{"data": {"name": "brackets"}, "transform": [{"filter": "datum.p === 'C' && datum.span === 'wide'"}], "mark": {"type": "text", "fontSize": 26, "baseline": "alphabetic", "dy": -3},
 "encoding": {"x": {"field": "tx", "type": "nominal", "scale": {"domain": ["Hepatitis","Liver cirrhosis","Liver cancer"]}},
  "y": {"field": "ty", "type": "quantitative", "scale": {"domain": [2.49, 19.16], "nice": false, "zero": false}}, "text": {"field": "label"}}}
]
},
{
"width": 356, "height": 688,
"title": {"text": "D", "anchor": "start", "frame": "group", "dx": -85, "offset": 14, "fontSize": 44, "fontWeight": "normal", "font": "DejaVu Serif", "color": "#1c1c1c"},
"layer": [
{"data": {"name": "boxes"}, "transform": [{"filter": "datum.p === 'D'"}], "mark": {"type": "rule", "strokeWidth": 4.5, "color": "#2d2d2f"},
 "encoding": {"x": {"field": "g", "type": "nominal", "scale": {"domain": ["Hepatitis","Liver cirrhosis","Liver cancer"], "paddingInner": 0, "paddingOuter": 0.09}, "axis": {"title": null, "labelAngle": -90, "labelAlign": "right", "labelBaseline": "middle", "labelFontSize": 44, "labelPadding": 45, "tickSize": -14}},
  "y": {"field": "lower", "type": "quantitative", "scale": {"domain": [1.2, 28.5], "nice": false, "zero": false}, "axis": {"title": "PIVKA", "values": [10,20], "tickSize": -13, "labelPadding": 39, "titlePadding": 40}},
  "y2": {"field": "upper"}}},
{"data": {"name": "boxes"}, "transform": [{"filter": "datum.p === 'D'"}], "mark": {"type": "bar", "size": 88, "stroke": "#2d2d2f", "strokeWidth": 3.5},
 "encoding": {"x": {"field": "g", "type": "nominal", "scale": {"domain": ["Hepatitis","Liver cirrhosis","Liver cancer"]}},
  "y": {"field": "q1", "type": "quantitative", "scale": {"domain": [1.2, 28.5], "nice": false, "zero": false}}, "y2": {"field": "q3"},
  "fill": {"field": "g", "type": "nominal", "scale": {"domain": ["Hepatitis","Liver cirrhosis","Liver cancer"], "range": ["#CC2229","#3F6DAF","#4BA844"]}, "legend": null}}},
{"data": {"name": "boxes"}, "transform": [{"filter": "datum.p === 'D'"}], "mark": {"type": "tick", "size": 88, "thickness": 7.5, "color": "#2d2d2f", "opacity": 1},
 "encoding": {"x": {"field": "g", "type": "nominal", "scale": {"domain": ["Hepatitis","Liver cirrhosis","Liver cancer"]}},
  "y": {"field": "median", "type": "quantitative", "scale": {"domain": [1.2, 28.5], "nice": false, "zero": false}}}},
{"data": {"name": "outliers"}, "transform": [{"filter": "datum.p === 'D'"}], "mark": {"type": "circle", "size": 415, "opacity": 1, "color": "#2d2d2f"},
 "encoding": {"x": {"field": "g", "type": "nominal", "scale": {"domain": ["Hepatitis","Liver cirrhosis","Liver cancer"]}},
  "y": {"field": "v", "type": "quantitative", "scale": {"domain": [1.2, 28.5], "nice": false, "zero": false}}}},
{"data": {"name": "brackets"}, "transform": [{"filter": "datum.p === 'D'"}], "mark": {"type": "rule", "strokeWidth": 3, "color": "#333333"},
 "encoding": {"x": {"field": "from", "type": "nominal", "scale": {"domain": ["Hepatitis","Liver cirrhosis","Liver cancer"]}}, "x2": {"field": "to"},
  "y": {"field": "h", "type": "quantitative", "scale": {"domain": [1.2, 28.5], "nice": false, "zero": false}}}},
{"data": {"name": "brackets"}, "transform": [{"filter": "datum.p === 'D'"}], "mark": {"type": "rule", "strokeWidth": 3, "color": "#333333"},
 "encoding": {"x": {"field": "from", "type": "nominal", "scale": {"domain": ["Hepatitis","Liver cirrhosis","Liver cancer"]}},
  "y": {"field": "h", "type": "quantitative", "scale": {"domain": [1.2, 28.5], "nice": false, "zero": false}}, "y2": {"field": "hb"}}},
{"data": {"name": "brackets"}, "transform": [{"filter": "datum.p === 'D'"}], "mark": {"type": "rule", "strokeWidth": 3, "color": "#333333"},
 "encoding": {"x": {"field": "to", "type": "nominal", "scale": {"domain": ["Hepatitis","Liver cirrhosis","Liver cancer"]}},
  "y": {"field": "h", "type": "quantitative", "scale": {"domain": [1.2, 28.5], "nice": false, "zero": false}}, "y2": {"field": "hb"}}},
{"data": {"name": "brackets"}, "transform": [{"filter": "datum.p === 'D' && datum.span === 'adj' && datum.label !== 'ns'"}], "mark": {"type": "text", "fontSize": 26, "baseline": "alphabetic", "dy": -3},
 "encoding": {"x": {"field": "tx", "type": "nominal", "bandPosition": 1, "scale": {"domain": ["Hepatitis","Liver cirrhosis","Liver cancer"]}},
  "y": {"field": "ty", "type": "quantitative", "scale": {"domain": [1.2, 28.5], "nice": false, "zero": false}}, "text": {"field": "label"}}},
{"data": {"name": "brackets"}, "transform": [{"filter": "datum.p === 'D' && datum.span === 'wide'"}], "mark": {"type": "text", "fontSize": 26, "baseline": "alphabetic", "dy": -3},
 "encoding": {"x": {"field": "tx", "type": "nominal", "scale": {"domain": ["Hepatitis","Liver cirrhosis","Liver cancer"]}},
  "y": {"field": "ty", "type": "quantitative", "scale": {"domain": [1.2, 28.5], "nice": false, "zero": false}}, "text": {"field": "label"}}}
]
},
{
"width": 354, "height": 688,
"title": {"text": "E", "anchor": "start", "frame": "group", "dx": -75, "dy": 25, "offset": 14, "fontSize": 44, "fontWeight": "normal", "font": "DejaVu Serif", "color": "#1c1c1c"},
"layer": [
{"data": {"name": "boxes"}, "transform": [{"filter": "datum.p === 'E'"}], "mark": {"type": "rule", "strokeWidth": 4.5, "color": "#2d2d2f"},
 "encoding": {"x": {"field": "g", "type": "nominal", "scale": {"domain": ["Hepatitis","Liver cirrhosis","Liver cancer"], "paddingInner": 0, "paddingOuter": 0.09}, "axis": {"title": null, "labelAngle": -90, "labelAlign": "right", "labelBaseline": "middle", "labelFontSize": 44, "labelPadding": 45, "tickSize": -14}},
  "y": {"field": "lower", "type": "quantitative", "scale": {"domain": [-1.68, 36.1], "nice": false, "zero": false}, "axis": {"title": "TK1", "values": [0,10,20,30], "tickSize": -13, "labelPadding": 39, "titlePadding": 40}},
  "y2": {"field": "upper"}}},
{"data": {"name": "boxes"}, "transform": [{"filter": "datum.p === 'E'"}], "mark": {"type": "bar", "size": 88, "stroke": "#2d2d2f", "strokeWidth": 3.5},
 "encoding": {"x": {"field": "g", "type": "nominal", "scale": {"domain": ["Hepatitis","Liver cirrhosis","Liver cancer"]}},
  "y": {"field": "q1", "type": "quantitative", "scale": {"domain": [-1.68, 36.1], "nice": false, "zero": false}}, "y2": {"field": "q3"},
  "fill": {"field": "g", "type": "nominal", "scale": {"domain": ["Hepatitis","Liver cirrhosis","Liver cancer"], "range": ["#CC2229","#3F6DAF","#4BA844"]}, "legend": null}}},
{"data": {"name": "boxes"}, "transform": [{"filter": "datum.p === 'E'"}], "mark": {"type": "tick", "size": 88, "thickness": 7.5, "color": "#2d2d2f", "opacity": 1},
 "encoding": {"x": {"field": "g", "type": "nominal", "scale": {"domain": ["Hepatitis","Liver cirrhosis","Liver cancer"]}},
  "y": {"field": "median", "type": "quantitative", "scale": {"domain": [-1.68, 36.1], "nice": false, "zero": false}}}},
{"data": {"name": "outliers"}, "transform": [{"filter": "datum.p === 'E'"}], "mark": {"type": "circle", "size": 415, "opacity": 1, "color": "#2d2d2f"},
 "encoding": {"x": {"field": "g", "type": "nominal", "scale": {"domain": ["Hepatitis","Liver cirrhosis","Liver cancer"]}},
  "y": {"field": "v", "type": "quantitative", "scale": {"domain": [-1.68, 36.1], "nice": false, "zero": false}}}},
{"data": {"name": "brackets"}, "transform": [{"filter": "datum.p === 'E'"}], "mark": {"type": "rule", "strokeWidth": 3, "color": "#333333"},
 "encoding": {"x": {"field": "from", "type": "nominal", "scale": {"domain": ["Hepatitis","Liver cirrhosis","Liver cancer"]}}, "x2": {"field": "to"},
  "y": {"field": "h", "type": "quantitative", "scale": {"domain": [-1.68, 36.1], "nice": false, "zero": false}}}},
{"data": {"name": "brackets"}, "transform": [{"filter": "datum.p === 'E'"}], "mark": {"type": "rule", "strokeWidth": 3, "color": "#333333"},
 "encoding": {"x": {"field": "from", "type": "nominal", "scale": {"domain": ["Hepatitis","Liver cirrhosis","Liver cancer"]}},
  "y": {"field": "h", "type": "quantitative", "scale": {"domain": [-1.68, 36.1], "nice": false, "zero": false}}, "y2": {"field": "hb"}}},
{"data": {"name": "brackets"}, "transform": [{"filter": "datum.p === 'E'"}], "mark": {"type": "rule", "strokeWidth": 3, "color": "#333333"},
 "encoding": {"x": {"field": "to", "type": "nominal", "scale": {"domain": ["Hepatitis","Liver cirrhosis","Liver cancer"]}},
  "y": {"field": "h", "type": "quantitative", "scale": {"domain": [-1.68, 36.1], "nice": false, "zero": false}}, "y2": {"field": "hb"}}},
{"data": {"name": "brackets"}, "transform": [{"filter": "datum.p === 'E' && datum.span === 'adj' && datum.label !== 'ns'"}], "mark": {"type": "text", "fontSize": 26, "baseline": "alphabetic", "dy": -3},
 "encoding": {"x": {"field": "tx", "type": "nominal", "bandPosition": 1, "scale": {"domain": ["Hepatitis","Liver cirrhosis","Liver cancer"]}},
  "y": {"field": "ty", "type": "quantitative", "scale": {"domain": [-1.68, 36.1], "nice": false, "zero": false}}, "text": {"field": "label"}}},
{"data": {"name": "brackets"}, "transform": [{"filter": "datum.p === 'E' && datum.span === 'wide'"}], "mark": {"type": "text", "fontSize": 26, "baseline": "alphabetic", "dy": -3},
 "encoding": {"x": {"field": "tx", "type": "nominal", "scale": {"domain": ["Hepatitis","Liver cirrhosis","Liver cancer"]}},
  "y": {"field": "ty", "type": "quantitative", "scale": {"domain": [-1.68, 36.1], "nice": false, "zero": false}}, "text": {"field": "label"}}},
{"data": {"name": "brackets"}, "transform": [{"filter": "datum.p === 'E' && datum.label === 'ns'"}], "mark": {"type": "text", "fontSize": 42, "baseline": "alphabetic"},
 "encoding": {"x": {"field": "tx", "type": "nominal", "bandPosition": 1, "scale": {"domain": ["Hepatitis","Liver cirrhosis","Liver cancer"]}},
  "y": {"field": "ty", "type": "quantitative", "scale": {"domain": [-1.68, 36.1], "nice": false, "zero": false}}, "text": {"field": "label"}}}
]
}
]
}
